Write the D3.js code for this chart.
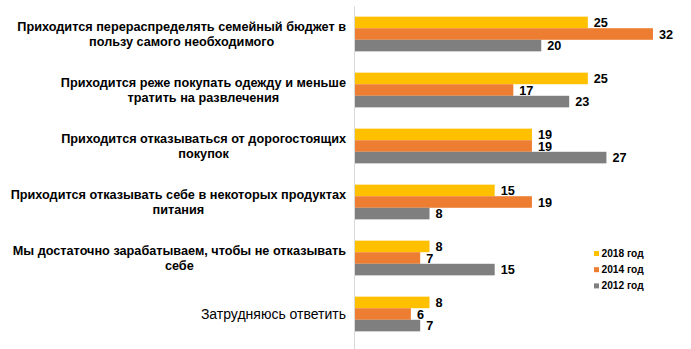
<!DOCTYPE html>
<html><head><meta charset="utf-8">
<script src="https://cdn.jsdelivr.net/npm/d3@7"></script>
<style>body{margin:0;background:#fff}svg{display:block}</style>
</head><body>
<svg id="c" width="691" height="349"></svg>
<script>
const categories = [
  ["Приходится перераспределять семейный бюджет в", "пользу самого необходимого"],
  ["Приходится реже покупать одежду и меньше", "тратить на развлечения"],
  ["Приходится отказываться от дорогостоящих", "покупок"],
  ["Приходится отказывать себе в некоторых продуктах", "питания"],
  ["Мы достаточно зарабатываем, чтобы не отказывать", "себе"],
  ["Затрудняюсь ответить"]
];
const seriesNames = ["2018 год", "2014 год", "2012 год"];
const seriesColors = ["#FFC000", "#ED7D31", "#7F7F7F"];
const values2018 = [25, 25, 19, 15, 8, 8];
const values2014 = [32, 17, 19, 19, 7, 6];
const values2012 = [20, 23, 27, 8, 15, 7];
const seriesValues = [values2018, values2014, values2012];

const svg = d3.select("#c");
const font = "'Liberation Sans', Arial, sans-serif";
const x0 = 355, yTop = 6, yBot = 342;
const x = d3.scaleLinear().domain([0, 32]).range([x0, x0 + 298]);
const y = d3.scaleBand().domain(d3.range(categories.length)).range([yTop, yBot]).paddingInner(0.38).paddingOuter(0.19);
const ys = d3.scaleBand().domain(d3.range(3)).range([0, y.bandwidth()]);

// axis line
svg.append("line").attr("x1", 354.5).attr("x2", 354.5).attr("y1", yTop).attr("y2", 349)
  .attr("stroke", "#D9D9D9").attr("stroke-width", 1);

seriesValues.forEach((vals, si) => {
  const g = svg.append("g");
  g.selectAll("rect").data(vals).join("rect")
    .attr("x", x(0))
    .attr("y", (d, i) => y(i) + ys(si))
    .attr("width", d => x(d) - x(0))
    .attr("height", ys.bandwidth())
    .attr("fill", seriesColors[si]);
  g.selectAll("text").data(vals).join("text")
    .attr("x", d => x(d) + 6)
    .attr("y", (d, i) => y(i) + ys(si) + ys.bandwidth() / 2)
    .attr("dy", "0.36em")
    .attr("font-family", font).attr("font-size", 12.7).attr("font-weight", "bold")
    .attr("fill", "#000")
    .text(d => d);
});

// category labels
categories.forEach((lines, i) => {
  const cy = y(i) + y.bandwidth() / 2;
  const g = svg.append("g");
  const bold = lines.length > 1;
  const texts = lines.map((l, k) => g.append("text")
    .attr("font-family", font).attr("font-size", bold ? 12.7 : 14)
    .attr("font-weight", bold ? "bold" : "normal")
    .attr("text-anchor", "middle").attr("fill", "#000")
    .attr("y", cy + (k - (lines.length - 1) / 2) * 14.3)
    .attr("dy", "0.35em")
    .text(l));
  const w = d3.max(texts, t => t.node().getComputedTextLength());
  texts.forEach(t => t.attr("x", 346 - w / 2));
});

// legend
const lg = svg.append("g");
seriesNames.forEach((n, i) => {
  const cy = 253.5 + i * 16.2;
  lg.append("rect").attr("x", 594).attr("y", cy - 2.5).attr("width", 5).attr("height", 5).attr("fill", seriesColors[i]);
  lg.append("text").attr("x", 601.5).attr("y", cy).attr("dy", "0.35em")
    .attr("font-family", font).attr("font-size", 10.2).attr("font-weight", "bold").attr("fill", "#000")
    .text(n);
});
</script>
</body></html>
